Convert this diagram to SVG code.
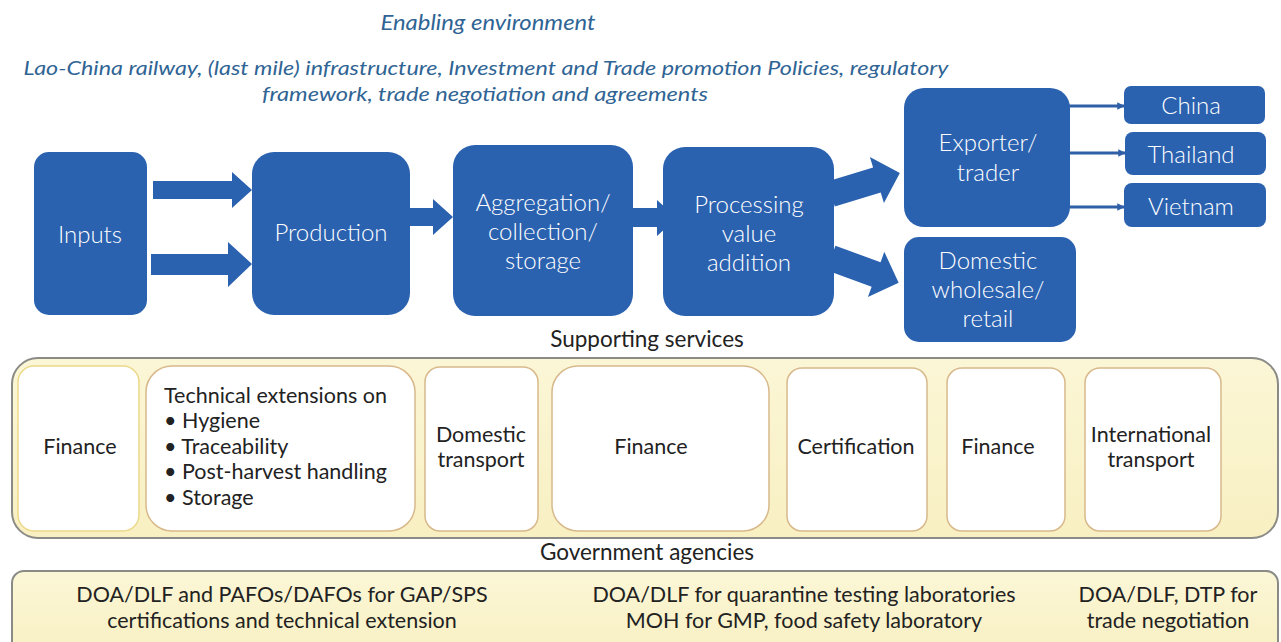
<svg xmlns="http://www.w3.org/2000/svg" width="1281" height="642" viewBox="0 0 1281 642">
  <style>
    .blk { fill: #2b62b0; }
    .blbl { font-family: Lato, "Noto Sans", sans-serif; font-size: 24px; font-weight: 300; fill: #ffffff; text-anchor: middle; }
    .env { font-family: Lato, "Noto Sans", sans-serif; font-size: 19px; font-style: italic; fill: #2f6494; text-anchor: middle; }
    .head { font-family: Lato, "Noto Sans", sans-serif; font-size: 22.5px; fill: #222222; text-anchor: middle; }
    .panel { fill: url(#yel); stroke: #8a8a86; stroke-width: 2; }
    .svc { fill: #ffffff; stroke: #d8b98c; stroke-width: 1.5; }
    .stxt { font-family: Lato, "Noto Sans", sans-serif; font-size: 21.5px; fill: #222222; text-anchor: middle; }
    .ltxt { font-family: Lato, "Noto Sans", sans-serif; font-size: 21.5px; fill: #222222; }
    .gtxt { font-family: Lato, "Noto Sans", sans-serif; font-size: 21.5px; fill: #222222; text-anchor: middle; }
    .thin { stroke: #2f5fa6; stroke-width: 3; fill: none; marker-end: url(#tip); }
  </style>
  <defs>
    <linearGradient id="yel" x1="0" y1="0" x2="0" y2="1">
      <stop offset="0" stop-color="#fbf6d6"/>
      <stop offset="1" stop-color="#f8f0c2"/>
    </linearGradient>
    <marker id="tip" viewBox="0 0 10 10" refX="9" refY="5" markerWidth="2.5" markerHeight="2.5" orient="auto">
      <path d="M0,0 L10,5 L0,10 z" fill="#2f5fa6"/>
    </marker>
    <polygon id="blockArrow" points="0,-13 48,-13 48,-24 72,0 48,24 48,13 0,13"/>
  </defs>

  <rect width="1281" height="642" fill="#ffffff"/>

  <!-- enabling environment -->
  <g id="enabling">
    <text class="env" x="488" y="30" style="font-size:21px" textLength="215" lengthAdjust="spacingAndGlyphs">Enabling environment</text>
    <text class="env" x="486" y="75" textLength="925" lengthAdjust="spacingAndGlyphs">Lao-China railway, (last mile) infrastructure, Investment and Trade promotion Policies, regulatory</text>
    <text class="env" x="485" y="101" textLength="446" lengthAdjust="spacingAndGlyphs">framework, trade negotiation and agreements</text>
  </g>

  <!-- connectors -->
  <g id="connectors" class="blk">
    <polygon points="153,181 232,181 232,172 252,190 232,208 232,199 153,199"/>
    <polygon points="151,254 228,254 228,242 252,264 228,287 228,275 151,275"/>
    <polygon points="408,208 433,208 433,199 453,217 433,235 433,226 408,226"/>
    <polygon points="631,208 657,208 657,200 677,218 657,236 657,227 631,227"/>
    <use href="#blockArrow" transform="translate(831,194) rotate(-17)"/>
    <use href="#blockArrow" transform="translate(831,258) rotate(20)"/>
    <line class="thin" x1="1068" y1="106" x2="1124" y2="106"/>
    <line class="thin" x1="1068" y1="153" x2="1125" y2="153"/>
    <line class="thin" x1="1068" y1="207" x2="1124" y2="207"/>
  </g>

  <!-- value chain stages -->
  <g id="inputs">
    <rect class="blk" x="34" y="152" width="113" height="163" rx="15"/>
    <text class="blbl" x="90" y="243">Inputs</text>
  </g>
  <g id="production">
    <rect class="blk" x="252" y="152" width="158" height="163" rx="22"/>
    <text class="blbl" x="331" y="241">Production</text>
  </g>
  <g id="aggregation">
    <rect class="blk" x="453" y="145" width="180" height="171" rx="22"/>
    <text class="blbl" x="543" y="211">Aggregation/</text>
    <text class="blbl" x="543" y="240">collection/</text>
    <text class="blbl" x="543" y="269">storage</text>
  </g>
  <g id="processing">
    <rect class="blk" x="663" y="147" width="171" height="169" rx="22"/>
    <text class="blbl" x="749" y="213">Processing</text>
    <text class="blbl" x="749" y="242">value</text>
    <text class="blbl" x="749" y="271">addition</text>
  </g>
  <g id="exporter">
    <rect class="blk" x="904" y="88" width="166" height="139" rx="20"/>
    <text class="blbl" x="988" y="151">Exporter/</text>
    <text class="blbl" x="988" y="181">trader</text>
  </g>
  <g id="domestic">
    <rect class="blk" x="904" y="237" width="172" height="105" rx="15"/>
    <text class="blbl" x="988" y="269">Domestic</text>
    <text class="blbl" x="988" y="298">wholesale/</text>
    <text class="blbl" x="988" y="327">retail</text>
  </g>
  <g id="china">
    <rect class="blk" x="1124" y="86" width="141" height="38" rx="7"/>
    <text class="blbl" x="1191" y="114">China</text>
  </g>
  <g id="thailand">
    <rect class="blk" x="1125" y="132" width="141" height="43" rx="8"/>
    <text class="blbl" x="1191" y="163">Thailand</text>
  </g>
  <g id="vietnam">
    <rect class="blk" x="1124" y="183" width="142" height="44" rx="8"/>
    <text class="blbl" x="1191" y="215">Vietnam</text>
  </g>

  <!-- supporting services -->
  <g id="supporting-services">
    <text class="head" x="647" y="347">Supporting services</text>
    <rect class="panel" x="12" y="358" width="1266" height="180" rx="26"/>
  </g>
  <g id="svc-finance-1">
    <rect class="svc" x="18" y="366" width="121" height="165" rx="16" style="stroke:#ecd98a"/>
    <text class="stxt" x="80" y="454">Finance</text>
  </g>
  <g id="svc-technical">
    <rect class="svc" x="146" y="366" width="269" height="165" rx="26"/>
    <text class="ltxt" x="164" y="403">Technical extensions on</text>
    <text class="ltxt" x="164" y="428">• Hygiene</text>
    <text class="ltxt" x="164" y="454">• Traceability</text>
    <text class="ltxt" x="164" y="479">• Post-harvest handling</text>
    <text class="ltxt" x="164" y="505">• Storage</text>
  </g>
  <g id="svc-domestic-transport">
    <rect class="svc" x="425" y="367" width="113" height="164" rx="15"/>
    <text class="stxt" x="481" y="442">Domestic</text>
    <text class="stxt" x="481" y="467">transport</text>
  </g>
  <g id="svc-finance-2">
    <rect class="svc" x="552" y="366" width="217" height="165" rx="26"/>
    <text class="stxt" x="651" y="454">Finance</text>
  </g>
  <g id="svc-certification">
    <rect class="svc" x="787" y="368" width="140" height="163" rx="15"/>
    <text class="stxt" x="856" y="454">Certification</text>
  </g>
  <g id="svc-finance-3">
    <rect class="svc" x="947" y="368" width="118" height="163" rx="15"/>
    <text class="stxt" x="998" y="454">Finance</text>
  </g>
  <g id="svc-international-transport">
    <rect class="svc" x="1085" y="368" width="136" height="163" rx="15"/>
    <text class="stxt" x="1151" y="442">International</text>
    <text class="stxt" x="1151" y="467">transport</text>
  </g>

  <!-- government agencies -->
  <g id="government-agencies">
    <text class="head" x="647" y="560">Government agencies</text>
    <rect class="panel" x="12" y="571" width="1266" height="90" rx="12"/>
    <text class="gtxt" x="282" y="602">DOA/DLF and PAFOs/DAFOs for GAP/SPS</text>
    <text class="gtxt" x="282" y="628">certifications and technical extension</text>
    <text class="gtxt" x="804" y="602">DOA/DLF for quarantine testing laboratories</text>
    <text class="gtxt" x="804" y="628">MOH for GMP, food safety laboratory</text>
    <text class="gtxt" x="1168" y="602">DOA/DLF, DTP for</text>
    <text class="gtxt" x="1168" y="628">trade negotiation</text>
  </g>
</svg>
